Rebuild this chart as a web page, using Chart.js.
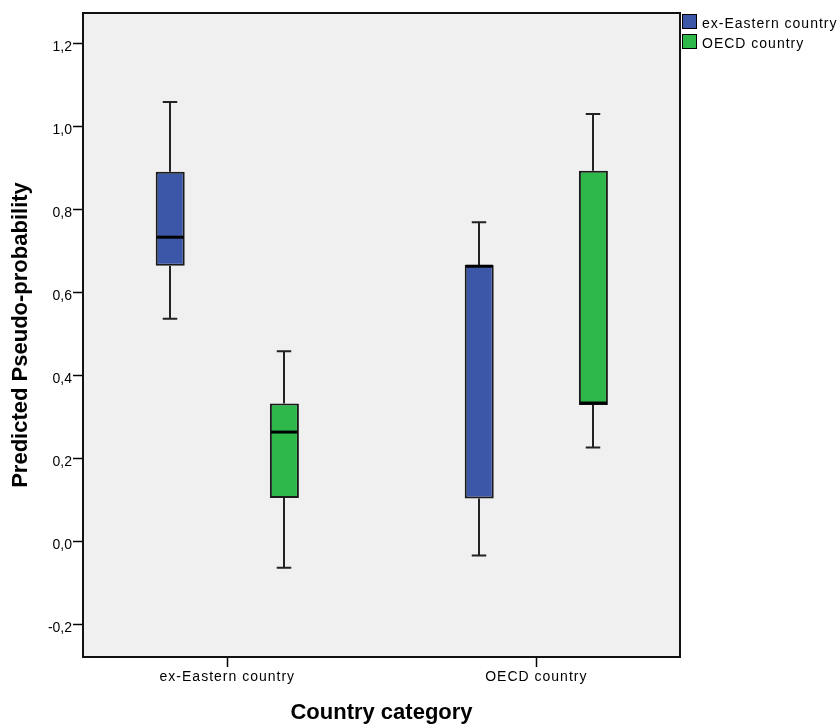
<!DOCTYPE html>
<html><head><meta charset="utf-8">
<script src="https://cdn.jsdelivr.net/npm/chart.js@4/dist/chart.umd.min.js"></script>
<style>html,body{margin:0;padding:0;background:#fff}canvas{display:block;background:#fff}</style>
</head><body>
<canvas id="c" width="840" height="726"></canvas>
<script>
// ---- data ----
const categories = ['ex-Eastern country', 'OECD country'];
const seriesNames = ['ex-Eastern country', 'OECD country'];
const seriesColors = ['#3C57A8', '#2EB84A'];

const exEasternMin    = [0.536, -0.035];
const exEasternQ1     = [0.664, 0.103];
const exEasternMedian = [0.733, 0.663];
const exEasternQ3     = [0.891, 0.666];
const exEasternMax    = [1.059, 0.769];

const oecdMin    = [-0.064, 0.226];
const oecdQ1     = [0.104, 0.328];
const oecdMedian = [0.263, 0.333];
const oecdQ3     = [0.332, 0.893];
const oecdMax    = [0.458, 1.030];

const yTickValues = [-0.2, 0.0, 0.2, 0.4, 0.6, 0.8, 1.0, 1.2];
const yTickLabels = ['-0,2', '0,0', '0,2', '0,4', '0,6', '0,8', '1,0', '1,2'];
const xTitle = 'Country category';
const yTitle = 'Predicted Pseudo-probability';

// ---- build ----
const stats = [
  {min: exEasternMin, q1: exEasternQ1, med: exEasternMedian, q3: exEasternQ3, max: exEasternMax},
  {min: oecdMin, q1: oecdQ1, med: oecdMedian, q3: oecdQ3, max: oecdMax}
];
const FONT = "'Liberation Sans', Arial, Helvetica, sans-serif";
Chart.defaults.font.family = FONT;
Chart.defaults.color = '#000';

const datasets = seriesNames.map((name, s) => ({
  label: name,
  data: categories.map((c, i) => ({x: i, y: [stats[s].q1[i], stats[s].q3[i]]})),
  backgroundColor: seriesColors[s],
  borderColor: '#1a1a1a',
  borderWidth: 2,
  borderSkipped: false
}));

const boxPlugin = {
  id: 'boxplotParts',
  beforeDraw(chart) {
    const {ctx, chartArea: a} = chart;
    ctx.save();
    ctx.fillStyle = '#F0F0F0';
    ctx.fillRect(a.left, a.top, a.right - a.left, a.bottom - a.top);
    ctx.restore();
  },
  beforeDatasetsDraw(chart) {
    const {ctx} = chart;
    const ys = chart.scales.y;
    ctx.save();
    ctx.strokeStyle = '#222';
    ctx.lineWidth = 2;
    chart.data.datasets.forEach((ds, s) => {
      const meta = chart.getDatasetMeta(s);
      meta.data.forEach((el, i) => {
        const {x, width} = el.getProps(['x', 'width'], true);
        const cap = width / 2;
        const yMin = ys.getPixelForValue(stats[s].min[i]);
        const yQ1 = ys.getPixelForValue(stats[s].q1[i]);
        const yQ3 = ys.getPixelForValue(stats[s].q3[i]);
        const yMax = ys.getPixelForValue(stats[s].max[i]);
        const xc = Math.round(x);
        ctx.beginPath();
        ctx.moveTo(xc, yQ3); ctx.lineTo(xc, yMax);
        ctx.moveTo(xc - cap / 2, yMax); ctx.lineTo(xc + cap / 2, yMax);
        ctx.moveTo(xc, yQ1); ctx.lineTo(xc, yMin);
        ctx.moveTo(xc - cap / 2, yMin); ctx.lineTo(xc + cap / 2, yMin);
        ctx.stroke();
      });
    });
    ctx.restore();
  },
  afterDatasetsDraw(chart) {
    const {ctx} = chart;
    const ys = chart.scales.y;
    ctx.save();
    ctx.strokeStyle = '#000';
    ctx.lineWidth = 3;
    chart.data.datasets.forEach((ds, s) => {
      const meta = chart.getDatasetMeta(s);
      meta.data.forEach((el, i) => {
        const {x, width} = el.getProps(['x', 'width'], true);
        const yMed = ys.getPixelForValue(stats[s].med[i]);
        ctx.beginPath();
        ctx.moveTo(x - width / 2 + 1, yMed); ctx.lineTo(x + width / 2 - 1, yMed);
        ctx.stroke();
      });
    });
    ctx.restore();
    // x tick labels (z=1) are drawn next with wider letter spacing
    ctx.letterSpacing = '1px';
  },
  afterDraw(chart) {
    const {ctx, chartArea: a} = chart;
    ctx.letterSpacing = '0px';
    ctx.save();
    ctx.strokeStyle = '#111';
    ctx.lineWidth = 2;
    ctx.strokeRect(a.left, a.top, a.right - a.left, a.bottom - a.top);
    // legend
    ctx.font = '14px ' + FONT;
    ctx.letterSpacing = '1px';
    ctx.textBaseline = 'alphabetic';
    ctx.textAlign = 'left';
    ctx.lineWidth = 1;
    seriesNames.forEach((name, s) => {
      const y = 14 + s * 20;
      ctx.fillStyle = seriesColors[s];
      ctx.fillRect(682.5, y + 0.5, 14, 14);
      ctx.strokeStyle = '#000';
      ctx.strokeRect(682.5, y + 0.5, 14, 14);
      ctx.fillStyle = '#000';
      ctx.fillText(name, 702, y + 14);
    });
    ctx.restore();
    ctx.letterSpacing = '0px';
  }
};

const gridOpts = {
  display: true, drawOnChartArea: false, drawTicks: true,
  tickLength: 10, tickWidth: 1.5, tickColor: '#000', offset: false
};

new Chart(document.getElementById('c'), {
  type: 'bar',
  data: {datasets},
  plugins: [boxPlugin],
  options: {
    responsive: false,
    animation: false,
    devicePixelRatio: 1,
    layout: {padding: {left: 0, top: 13, right: 160, bottom: 0}},
    plugins: {legend: {display: false}, tooltip: {enabled: false}},
    datasets: {bar: {categoryPercentage: 0.739, barPercentage: 0.254}},
    scales: {
      x: {
        type: 'linear', offset: false, min: -0.467, max: 1.465,
        afterBuildTicks: s => { s.ticks = categories.map((c, i) => ({value: i})); },
        afterFit: s => { s.height = 69; },
        grid: gridOpts,
        border: {display: false},
        ticks: {z: 1, padding: 2, font: {size: 14}, color: '#000', maxRotation: 0, autoSkip: false,
                callback: v => categories[Math.round(v)]},
        title: {display: true, text: xTitle, color: '#000', font: {size: 22, weight: 'bold'},
                padding: {top: 0, bottom: 0}}
      },
      y: {
        type: 'linear', min: -0.2795, max: 1.2737,
        afterBuildTicks: s => { s.ticks = yTickValues.map(v => ({value: v})); },
        afterFit: s => { s.width = 83; },
        grid: gridOpts,
        border: {display: false},
        ticks: {padding: 1, labelOffset: 4, font: {size: 14}, color: '#000',
                callback: v => yTickLabels[yTickValues.findIndex(t => Math.abs(t - v) < 1e-9)]},
        title: {display: true, text: yTitle, color: '#000', font: {size: 22, weight: 'bold'},
                padding: {top: 8, bottom: 0}}
      }
    }
  }
});
</script>
</body></html>
